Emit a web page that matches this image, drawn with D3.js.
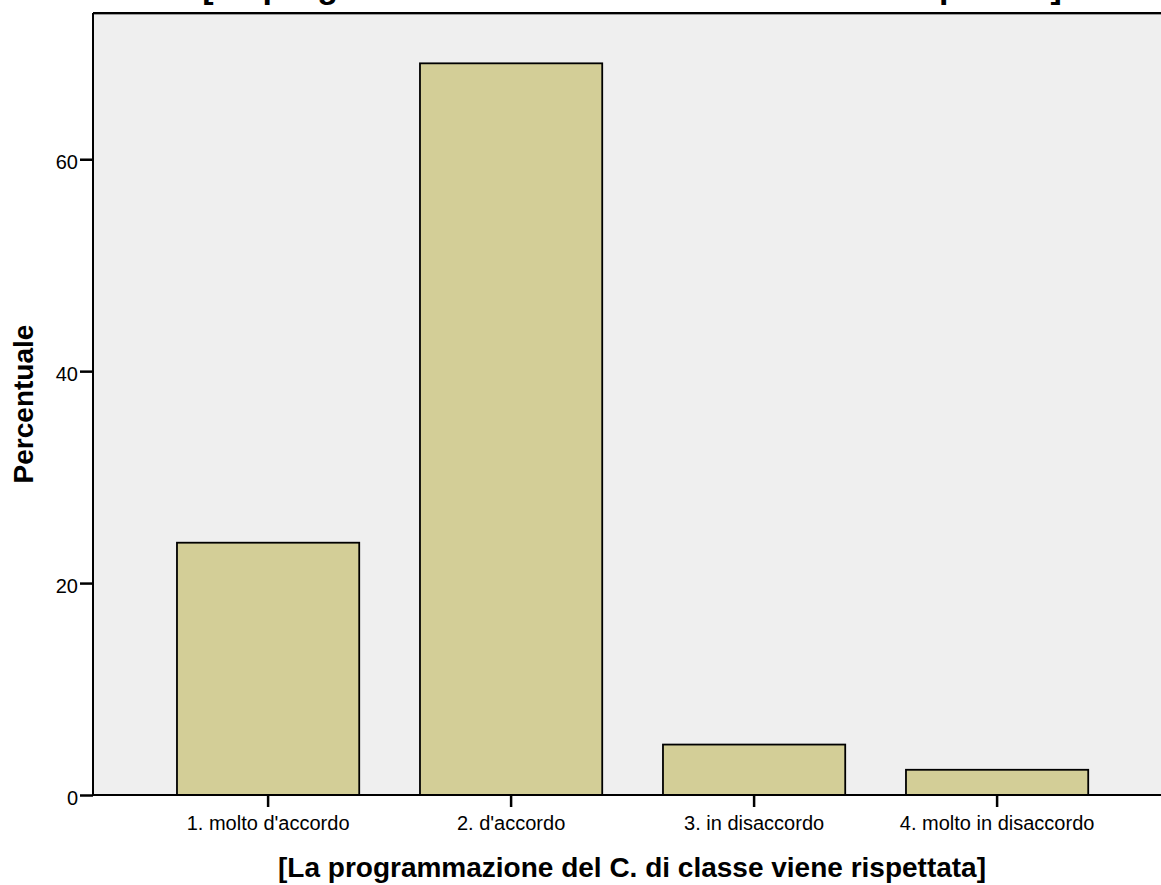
<!DOCTYPE html>
<html><head><meta charset="utf-8">
<script src="https://cdn.jsdelivr.net/npm/d3@7"></script>
<style>body{margin:0;background:#fff;}svg{display:block;font-family:"Liberation Sans",Arial,sans-serif;}</style>
</head><body>
<svg id="c" width="1161" height="885"></svg>
<script>
const categories = ["1. molto d'accordo","2. d'accordo","3. in disaccordo","4. molto in disaccordo"];
const values = [23.81, 69.05, 4.76, 2.38];
const yTicks = [0,20,40,60];
const titleText = "[La programmazione del C. di classe viene rispettata]";
const xTitle = "[La programmazione del C. di classe viene rispettata]";
const yTitle = "Percentuale";

const svg = d3.select("#c");
const L = 93, T = 13, B = 795, R = 1161;
const y = d3.scaleLinear().domain([0, 73.8]).range([B, T]);
const x = d3.scaleBand().domain(categories).range([146.6, 1118.6]).paddingInner(0.25).paddingOuter(0.125);

svg.append("rect").attr("x", L).attr("y", T).attr("width", R - L).attr("height", B - T).attr("fill", "#efefef");
svg.append("line").attr("x1", L).attr("x2", R).attr("y1", T + 1.5).attr("y2", T + 1.5).attr("stroke", "#999").attr("stroke-width", 1);
svg.append("line").attr("x1", L).attr("x2", R).attr("y1", T).attr("y2", T).attr("stroke", "#000").attr("stroke-width", 2);

svg.selectAll("rect.bar").data(values).enter().append("rect").attr("class","bar")
  .attr("x", (d,i) => x(categories[i]))
  .attr("y", d => y(d))
  .attr("width", x.bandwidth())
  .attr("height", d => B - y(d))
  .attr("fill", "#d3ce97").attr("stroke", "#000").attr("stroke-width", 1.8);

// y axis
const ya = d3.axisLeft(y).tickValues(yTicks).tickSize(13).tickPadding(2).tickFormat(d3.format("d"));
const yg = svg.append("g").attr("transform", `translate(${L},0)`).call(ya);
yg.select(".domain").attr("stroke", "#000").attr("stroke-width", 2).attr("d", `M0,${T}V${B}`);
yg.selectAll(".tick line").attr("stroke", "#000").attr("stroke-width", 2.5);
yg.selectAll(".tick text").attr("font-size", 20).attr("fill", "#000").attr("font-family", "Liberation Sans, Arial, sans-serif").attr("dy", "0.32em").attr("y", 3);

// x axis
const xa = d3.axisBottom(x).tickSize(12).tickPadding(9);
const xg = svg.append("g").attr("transform", `translate(0,${B})`).call(xa);
xg.select(".domain").attr("stroke", "#000").attr("stroke-width", 2).attr("d", `M${L},0H${R}`);
xg.selectAll(".tick line").attr("stroke", "#000").attr("stroke-width", 2.5);
xg.selectAll(".tick text").attr("font-size", 20).attr("fill", "#000").attr("font-family", "Liberation Sans, Arial, sans-serif");

svg.append("text").attr("x", 632).attr("y", 877).attr("text-anchor", "middle")
  .attr("font-size", 28).attr("font-weight", "bold").text(xTitle);
svg.append("text").attr("transform", "translate(33,404) rotate(-90)").attr("text-anchor", "middle")
  .attr("font-size", 28).attr("font-weight", "bold").text(yTitle);
svg.append("text").attr("x", 632).attr("y", -2).attr("text-anchor", "middle")
  .attr("font-size", 34).attr("font-weight", "bold").text(titleText);
</script>
</body></html>
